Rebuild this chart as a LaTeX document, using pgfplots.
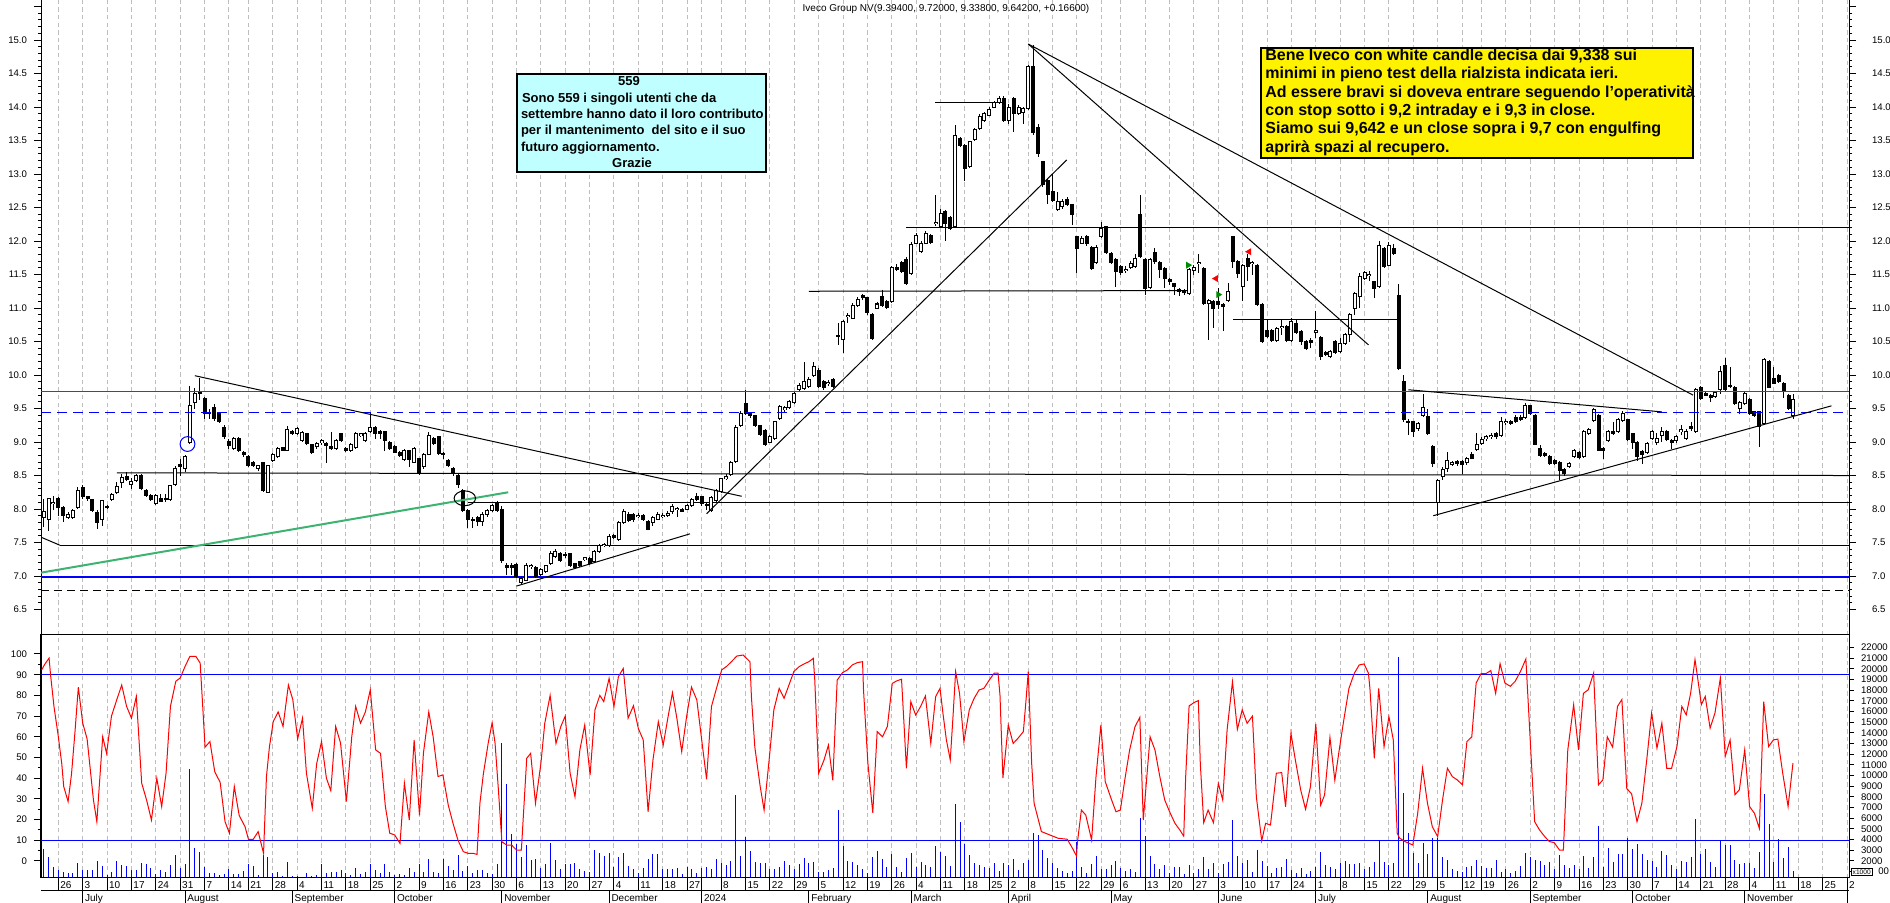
\documentclass[border=0pt]{standalone}
\usepackage{fontspec}
\setmainfont{Liberation Sans}
\usepackage{pgfplots}
\usepackage{pgfplotstable}
\pgfplotsset{compat=1.18}

\definecolor{cyanbox}{RGB}{192,255,255}
\definecolor{trendgreen}{RGB}{60,179,113}
\definecolor{gridgray}{RGB}{190,190,190}

% x = trading-day index, 0 = Mon 19 Jun 2023 (Borsa holidays skipped)
\pgfplotstableread{
i o h l c
2 7.88 8.15 7.73 7.96
3 7.85 8.17 7.67 8.15
4 8.08 8.20 7.98 8.10
5 8.15 8.18 7.90 8.02
6 8.02 8.05 7.80 7.90
7 7.88 7.95 7.85 7.92
8 7.87 8.00 7.85 7.98
9 8.02 8.33 8.00 8.27
10 8.32 8.36 8.15 8.19
11 8.18 8.20 8.12 8.15
12 8.14 8.15 7.95 7.98
13 7.95 7.98 7.70 7.80
14 7.84 8.14 7.75 8.12
15 8.04 8.06 8.00 8.02
16 8.14 8.24 8.12 8.21
17 8.25 8.40 8.22 8.33
18 8.39 8.52 8.32 8.47
19 8.49 8.56 8.42 8.44
20 8.36 8.46 8.30 8.41
21 8.42 8.53 8.40 8.50
22 8.50 8.52 8.28 8.31
23 8.28 8.30 8.18 8.20
24 8.20 8.22 8.12 8.14
25 8.08 8.22 8.06 8.20
26 8.15 8.22 8.10 8.11
27 8.16 8.23 8.10 8.14
28 8.14 8.36 8.12 8.35
29 8.36 8.64 8.34 8.60
30 8.66 8.75 8.50 8.64
31 8.60 8.80 8.55 8.78
32 9.00 9.83 8.97 9.55
33 9.59 9.80 9.50 9.72
34 9.74 9.95 9.62 9.72
35 9.65 9.67 9.35 9.43
36 9.44 9.50 9.35 9.42
37 9.52 9.57 9.32 9.35
38 9.43 9.45 9.28 9.30
39 9.22 9.25 9.05 9.08
40 9.01 9.05 8.90 8.95
41 8.90 9.08 8.88 9.05
42 9.05 9.07 8.85 8.87
43 8.85 8.87 8.78 8.82
44 8.78 8.80 8.63 8.65
45 8.70 8.72 8.62 8.65
46 8.60 8.66 8.57 8.65
47 8.69 8.70 8.26 8.28
48 8.25 8.66 8.24 8.65
49 8.72 8.84 8.70 8.82
50 8.78 8.92 8.76 8.90
51 8.92 8.93 8.86 8.87
52 8.87 9.24 8.86 9.19
53 9.15 9.18 9.10 9.12
54 9.13 9.22 9.10 9.20
55 9.03 9.16 9.00 9.14
56 9.12 9.13 8.95 8.98
57 8.96 8.97 8.82 8.84
58 8.93 9.00 8.90 8.98
59 8.99 9.04 8.96 9.02
60 8.98 9.00 8.68 8.95
61 8.93 9.15 8.88 8.91
62 8.91 9.05 8.88 9.02
63 9.12 9.14 9.00 9.02
64 8.90 8.92 8.85 8.87
65 8.87 8.98 8.85 8.96
66 8.92 9.15 8.90 9.12
67 9.10 9.14 9.08 9.12
68 9.02 9.15 9.00 9.13
69 9.15 9.43 9.13 9.22
70 9.22 9.24 9.05 9.12
71 9.15 9.18 9.05 9.12
72 9.15 9.16 8.86 9.02
73 9.00 9.02 8.88 8.90
74 8.94 8.96 8.83 8.85
75 8.84 8.86 8.78 8.80
76 8.74 8.89 8.72 8.87
77 8.87 8.88 8.63 8.74
78 8.70 8.93 8.68 8.90
79 8.75 8.76 8.51 8.53
80 8.63 8.84 8.60 8.82
81 8.82 9.15 8.80 9.10
82 9.05 9.07 8.95 8.98
83 9.08 9.09 8.80 8.83
84 8.83 8.85 8.75 8.82
85 8.73 8.75 8.62 8.65
86 8.61 8.63 8.50 8.55
87 8.50 8.52 8.32 8.37
88 8.28 8.30 7.95 7.98
89 7.98 8.00 7.72 7.85
90 7.85 7.88 7.72 7.83
91 7.87 7.90 7.75 7.82
92 7.82 7.95 7.75 7.92
93 7.92 8.00 7.88 7.98
94 7.98 8.08 7.95 8.05
95 8.10 8.12 7.96 7.98
96 8.00 8.05 7.20 7.23
97 7.15 7.20 7.02 7.13
98 7.15 7.20 7.02 7.13
99 7.17 7.19 6.97 6.99
100 6.91 7.00 6.88 6.97
101 6.94 7.20 6.92 7.15
102 7.14 7.18 7.10 7.16
103 7.13 7.15 6.97 6.99
104 7.02 7.12 7.00 7.10
105 7.07 7.17 7.05 7.15
106 7.19 7.37 7.17 7.34
107 7.29 7.40 7.27 7.37
108 7.33 7.36 7.21 7.23
109 7.32 7.36 7.27 7.30
110 7.33 7.35 7.13 7.15
111 7.18 7.20 7.11 7.13
112 7.21 7.23 7.13 7.15
113 7.25 7.29 7.22 7.27
114 7.26 7.28 7.16 7.18
115 7.21 7.39 7.19 7.37
116 7.37 7.48 7.35 7.45
117 7.45 7.50 7.43 7.47
118 7.45 7.62 7.43 7.59
119 7.60 7.62 7.55 7.58
120 7.55 7.82 7.53 7.80
121 7.80 8.00 7.78 7.96
122 7.92 7.95 7.80 7.83
123 7.92 7.94 7.80 7.84
124 7.89 7.94 7.86 7.91
125 7.90 7.92 7.82 7.85
126 7.82 7.84 7.68 7.70
127 7.80 7.90 7.75 7.88
128 7.85 7.96 7.83 7.92
129 7.89 7.94 7.86 7.91
130 7.90 7.97 7.88 7.94
131 7.96 8.07 7.93 8.04
132 7.99 8.03 7.88 8.01
133 8.00 8.02 7.95 7.97
134 8.00 8.08 7.98 8.05
135 8.05 8.16 8.03 8.14
136 8.19 8.24 8.12 8.14
137 8.19 8.20 8.05 8.08
138 8.07 8.09 7.98 8.05
139 7.98 8.19 7.96 8.17
140 8.12 8.30 8.10 8.28
141 8.26 8.47 8.24 8.45
142 8.45 8.52 8.43 8.49
143 8.52 8.72 8.50 8.69
144 8.71 9.25 8.69 9.22
145 9.24 9.46 9.22 9.43
146 9.58 9.78 9.40 9.43
147 9.42 9.45 9.36 9.40
148 9.39 9.41 9.22 9.24
149 9.24 9.26 9.09 9.11
150 9.17 9.19 8.94 8.97
151 9.00 9.10 8.98 9.08
152 9.05 9.32 9.03 9.30
153 9.35 9.56 9.33 9.53
154 9.48 9.54 9.45 9.51
155 9.51 9.63 9.49 9.60
156 9.59 9.75 9.57 9.72
157 9.79 9.88 9.76 9.85
158 9.80 10.20 9.78 9.90
159 9.83 9.97 9.80 9.94
160 9.99 10.20 9.97 10.12
161 10.07 10.10 9.80 9.83
162 9.90 9.92 9.78 9.82
163 9.87 9.92 9.84 9.89
164 9.94 9.96 9.80 9.83
165 10.59 10.77 10.45 10.57
166 10.53 10.82 10.33 10.80
167 10.87 10.93 10.77 10.89
168 10.85 11.07 10.83 11.04
169 11.04 11.16 11.02 11.12
170 11.18 11.21 11.12 11.16
171 11.15 11.17 10.90 10.93
172 10.90 10.92 10.52 10.54
173 11.00 11.09 10.98 11.06
174 11.17 11.27 11.02 11.04
175 11.09 11.12 10.98 11.01
176 11.09 11.63 11.07 11.60
177 11.61 11.65 11.55 11.57
178 11.68 11.70 11.53 11.55
179 11.73 11.76 11.35 11.37
180 11.52 11.98 11.50 11.95
181 11.97 12.12 11.95 12.08
182 11.84 12.00 11.82 11.97
183 11.97 12.15 11.95 12.11
184 12.08 12.10 11.95 11.98
185 12.26 12.69 12.22 12.28
186 12.22 12.48 12.20 12.41
187 12.44 12.46 12.00 12.26
188 12.35 12.37 12.17 12.19
189 12.21 13.73 12.19 13.58
190 13.53 13.56 13.40 13.43
191 13.43 13.45 12.89 13.08
192 13.11 13.50 13.09 13.48
193 13.51 13.69 13.49 13.66
194 13.68 13.89 13.66 13.86
195 13.80 13.93 13.78 13.90
196 13.88 14.00 13.86 13.96
197 14.00 14.09 13.98 14.06
198 14.06 14.17 14.04 14.13
199 14.13 14.16 13.78 13.80
200 13.80 14.05 13.75 14.00
201 14.13 14.15 13.62 13.90
202 13.90 14.03 13.88 14.00
203 13.92 14.00 13.75 13.98
204 13.98 14.62 13.95 14.60
205 14.60 14.93 13.58 13.62
206 13.70 13.75 13.25 13.31
207 13.18 13.20 12.80 12.84
208 12.91 12.93 12.56 12.69
209 12.74 13.00 12.58 12.61
210 12.47 12.73 12.45 12.59
211 12.51 12.62 12.48 12.59
212 12.62 12.65 12.53 12.55
213 12.54 12.56 12.24 12.39
214 12.06 12.08 11.53 11.89
215 11.97 12.07 11.95 12.04
216 12.07 12.09 11.93 11.96
217 11.91 11.93 11.56 11.59
218 11.68 11.94 11.66 11.91
219 12.06 12.29 12.04 12.19
220 12.21 12.23 11.80 11.83
221 11.82 11.84 11.65 11.68
222 11.72 11.74 11.31 11.54
223 11.62 11.64 11.50 11.53
224 11.56 11.62 11.52 11.58
225 11.61 11.70 11.58 11.67
226 11.62 11.80 11.60 11.74
227 12.39 12.69 11.75 11.77
228 11.72 11.74 11.20 11.29
229 11.31 11.75 11.28 11.72
230 11.83 11.90 11.66 11.69
231 11.68 11.70 11.45 11.57
232 11.59 11.61 11.30 11.44
233 11.42 11.45 11.35 11.40
234 11.36 11.38 11.20 11.32
235 11.27 11.30 11.18 11.25
236 11.25 11.28 11.20 11.23
237 11.22 11.60 11.20 11.58
238 11.56 11.64 11.50 11.61
239 11.66 11.80 11.52 11.68
240 11.59 11.61 11.05 11.07
241 11.07 11.14 10.53 11.11
242 11.10 11.12 10.70 11.00
243 11.10 11.30 10.98 11.06
244 11.06 11.08 10.65 11.03
245 11.11 11.37 11.09 11.24
246 12.06 12.08 11.60 11.69
247 11.69 11.71 11.45 11.51
248 11.32 11.66 11.10 11.64
249 11.74 11.80 11.40 11.62
250 11.66 11.70 11.50 11.68
251 11.63 11.65 11.03 11.05
252 11.05 11.07 10.48 10.50
253 10.66 10.84 10.55 10.57
254 10.67 10.69 10.49 10.51
255 10.51 10.71 10.49 10.69
256 10.71 10.82 10.60 10.73
257 10.72 10.74 10.50 10.52
258 10.52 10.85 10.50 10.80
259 10.77 10.84 10.61 10.63
260 10.65 10.67 10.45 10.50
261 10.50 10.52 10.38 10.40
262 10.51 10.55 10.40 10.49
263 10.64 10.95 10.55 10.66
264 10.56 10.58 10.22 10.27
265 10.33 10.36 10.28 10.31
266 10.28 10.38 10.26 10.35
267 10.50 10.52 10.31 10.33
268 10.35 10.55 10.33 10.47
269 10.47 10.63 10.45 10.60
270 10.60 10.92 10.50 10.90
271 10.99 11.24 10.90 11.21
272 11.17 11.52 11.00 11.47
273 11.44 11.56 11.42 11.53
274 11.48 11.55 11.40 11.50
275 11.39 11.41 11.15 11.29
276 11.32 12.00 11.30 11.94
277 11.89 11.91 11.60 11.62
278 11.64 11.98 11.62 11.94
279 11.89 11.95 11.79 11.81
280 11.19 11.36 10.07 10.09
281 9.90 10.00 9.30 9.33
282 9.31 9.35 9.10 9.29
283 9.30 9.32 9.08 9.15
284 9.20 9.30 9.17 9.27
285 9.40 9.72 9.38 9.52
286 9.38 9.50 9.10 9.13
287 8.94 8.96 8.62 8.68
288 8.10 8.45 7.90 8.42
289 8.48 8.62 8.44 8.59
290 8.60 8.85 8.55 8.73
291 8.67 8.72 8.64 8.69
292 8.71 8.73 8.64 8.68
293 8.71 8.73 8.52 8.67
294 8.69 8.78 8.66 8.76
295 8.82 8.85 8.74 8.76
296 8.89 9.13 8.87 8.97
297 8.98 9.07 8.96 9.04
298 9.05 9.11 9.02 9.08
299 9.08 9.13 9.05 9.10
300 9.12 9.15 9.05 9.08
301 9.09 9.38 9.07 9.30
302 9.29 9.34 9.26 9.31
303 9.31 9.33 9.26 9.28
304 9.37 9.40 9.28 9.30
305 9.37 9.40 9.31 9.33
306 9.37 9.58 9.35 9.55
307 9.54 9.56 9.40 9.43
308 9.40 9.42 8.95 8.97
309 8.90 8.95 8.78 8.80
310 8.83 8.85 8.78 8.80
311 8.78 8.80 8.66 8.68
312 8.72 8.74 8.66 8.68
313 8.69 8.71 8.43 8.58
314 8.59 8.61 8.50 8.53
315 8.63 8.70 8.61 8.68
316 8.78 8.90 8.76 8.88
317 8.84 8.86 8.75 8.77
318 8.78 9.18 8.76 9.16
319 9.13 9.21 9.11 9.19
320 9.32 9.51 9.30 9.48
321 9.40 9.42 8.86 8.88
322 8.90 8.92 8.74 8.88
323 9.02 9.18 9.00 9.16
324 9.16 9.30 9.10 9.12
325 9.16 9.36 9.14 9.34
326 9.32 9.47 9.30 9.42
327 9.33 9.35 9.02 9.04
328 9.12 9.14 8.90 9.00
329 8.99 9.01 8.72 8.79
330 8.86 8.88 8.67 8.82
331 8.84 9.00 8.82 8.98
332 9.05 9.18 9.03 9.16
333 9.00 9.13 8.95 9.05
334 9.10 9.22 9.00 9.16
335 9.16 9.18 9.02 9.04
336 9.02 9.05 8.90 8.99
337 9.02 9.10 8.98 9.08
338 9.15 9.25 9.10 9.18
339 9.05 9.20 9.03 9.16
340 9.23 9.30 9.17 9.20
341 9.15 9.81 9.13 9.79
342 9.82 9.84 9.63 9.65
343 9.73 9.75 9.68 9.70
344 9.69 9.72 9.60 9.67
345 9.68 9.76 9.66 9.74
346 9.78 10.14 9.72 10.05
347 10.14 10.25 9.76 9.78
348 9.85 10.12 9.80 9.83
349 9.82 9.84 9.55 9.57
350 9.50 9.61 9.42 9.59
351 9.58 9.74 9.56 9.72
352 9.63 9.65 9.41 9.43
353 9.45 9.47 9.38 9.40
354 9.45 9.47 8.93 9.23
355 9.27 10.25 9.25 10.23
356 10.20 10.22 9.80 9.82
357 9.95 10.12 9.86 9.88
358 10.00 10.02 9.88 9.90
359 9.87 9.89 9.65 9.75
360 9.69 9.71 9.48 9.50
361 9.394 9.72 9.338 9.642
}\candles

\pgfplotstableread{
i v
2 3100
3 2350
4 1400
5 1200
6 1000
7 900
8 900
9 1800
10 1200
11 1150
12 1150
13 2000
14 1500
15 700
16 1000
17 2000
18 1600
19 1500
20 1150
21 1150
22 1800
23 1700
24 1300
25 800
26 1200
27 1000
28 1600
29 2600
30 1300
31 1700
32 10600
33 3200
34 2800
35 1400
36 900
37 900
38 700
39 800
40 1250
41 800
42 750
43 1100
44 1700
45 1500
46 700
47 2600
48 2350
49 900
50 1000
51 600
52 1900
53 600
54 600
55 500
56 900
57 600
58 700
59 1700
60 900
61 1000
62 1000
63 1200
64 900
65 700
66 1300
67 800
68 1000
69 1700
70 1200
71 900
72 1700
73 1000
74 700
75 800
76 650
77 1300
78 1000
79 1700
80 1000
81 2200
82 1000
83 900
84 2200
85 1500
86 1200
87 2600
88 1100
89 1500
90 900
91 1200
92 1160
93 840
94 750
95 1720
96 13030
97 9220
98 4530
99 3590
100 2340
101 3500
102 2090
103 2150
104 1310
105 1720
106 3720
107 2090
108 1220
109 1720
110 1720
111 1840
112 1220
113 1090
114 1000
115 3030
116 2780
117 2470
118 2780
119 1470
120 2400
121 2780
122 1530
123 1220
124 910
125 1340
126 2220
127 2650
128 2650
129 1220
130 1220
131 1280
132 1340
133 780
134 1470
135 1280
136 910
137 1340
138 1400
139 1220
140 2220
141 1780
142 1660
143 1970
144 8220
145 2470
146 4280
147 2970
148 1940
149 1780
150 1840
151 1220
152 1280
153 1470
154 2030
155 1620
156 1280
157 1720
158 2280
159 1840
160 1900
161 1000
162 1000
163 1160
164 1310
165 6780
166 3400
167 2030
168 1900
169 1620
170 1280
171 910
172 2340
173 2970
174 2220
175 1400
176 2650
177 1470
178 970
179 2280
180 2780
181 1470
182 1900
183 1660
184 1470
185 3400
186 2875
187 2470
188 1530
189 7340
190 5690
191 3590
192 2560
193 1840
194 1620
195 1470
196 1340
197 1840
198 1090
199 1840
200 1660
201 2220
202 1160
203 1840
204 2090
205 4660
206 4440
207 3030
208 2250
209 1840
210 1340
211 1090
212 910
213 1090
214 3810
215 1400
216 840
217 1720
218 2470
219 1220
220 1280
221 1620
222 2030
223 1310
224 1090
225 1280
226 1000
227 6000
228 4340
229 2470
230 1720
231 1220
232 1620
233 840
234 1400
235 1400
236 780
237 1620
238 840
239 1280
240 2340
241 1280
242 1840
243 910
244 1720
245 1940
246 5840
247 2470
248 1840
249 2090
250 1000
251 3030
252 2030
253 1530
254 840
255 1310
256 1400
257 2220
258 1160
259 910
260 1310
261 780
262 1090
263 1470
264 2875
265 1620
266 1400
267 1280
268 1780
269 2030
270 1720
271 1720
272 1840
273 1280
274 1470
275 1940
276 3900
277 1940
278 1620
279 1780
280 21160
281 8400
282 4660
283 2720
284 1780
285 3720
286 2625
287 4125
288 4125
289 2400
290 2090
291 1250
292 1090
293 1000
294 1400
295 1530
296 2090
297 1530
298 1340
299 1340
300 2090
301 1000
302 1250
303 900
304 1090
305 1500
306 2780
307 2400
308 2090
309 2030
310 1625
311 1940
312 1250
313 2560
314 1625
315 1375
316 1625
317 1220
318 2470
319 1375
320 2400
321 5280
322 1470
323 3190
324 1940
325 2660
326 2660
327 4125
328 3090
329 3590
330 2660
331 2090
332 2030
333 1400
334 2940
335 2560
336 1625
337 1220
338 2030
339 1940
340 2340
341 5900
342 2660
343 3125
344 1940
345 1400
346 3900
347 3500
348 3500
349 2090
350 1720
351 1780
352 1780
353 1310
354 2810
355 8280
356 5470
357 1940
358 4030
359 2250
360 3280
361 1090
}\volume

\pgfplotsset{
  panel/.style={scale only axis, width=904pt, anchor=south west,
    xmin=1.44, xmax=372.4,
    axis line style={black, line width=0.5pt},
    tick style={black, line width=0.5pt},
    tick align=outside,
    ticklabel style={font=\fontsize{4.8}{5}\selectfont},
    /pgf/number format/assume math mode=true,
    every axis plot/.append style={line width=0.5pt}},
  weeks/.style={xtick={5,10,15,20,25,30,35,40,44,49,54,59,64,69,74,79,84,89,94,99,104,109,114,119,124,129,134,137,141,146,151,156,161,166,171,176,181,186,191,196,200,204,209,214,219,223,228,233,238,243,248,253,258,263,268,273,278,283,288,293,297,302,307,312,317,322,327,332,337,342,347,352,357,362,367,372}},
  weekgrid/.style={weeks, xmajorgrids,
    major grid style={gridgray, line width=0.5pt, dash pattern=on 2.2pt off 1.6pt}},
  candlebar/.style={only marks, mark=*, mark size=0pt,
    mark options={draw=none, fill=none},
    error bars/y dir=both, error bars/y explicit, error bars/error mark=none},
  pricey/.style={ymin=6.12, ymax=15.642,
    ytick={6.5,7,7.5,8,8.5,9,9.5,10,10.5,11,11.5,12,12.5,13,13.5,14,14.5,15,15.5},
    yticklabels={6.5,7.0,7.5,8.0,8.5,9.0,9.5,10.0,10.5,11.0,11.5,12.0,12.5,13.0,13.5,14.0,14.5,15.0,{}}},
}

\begin{document}
\begin{tikzpicture}

% ---------------- price panel ----------------
\begin{axis}[panel, pricey, at={(20.5pt,134pt)}, height=319pt,
  weekgrid, xticklabels={}, xtick style={draw=none},
  minor y tick num=4, major tick length=3.5pt, minor tick length=1.5pt]

\addplot[black] coordinates {(17,8.54)(372.4,8.50)};
\addplot[black] coordinates {(89,8.09)(372.4,8.09)};
\addplot[black] coordinates {(5.3,7.46)(372.4,7.46)};
\addplot[black] coordinates {(1.44,7.58)(5.3,7.46)};
\addplot[blue, line width=1pt] coordinates {(1.44,6.98)(372.4,6.98)};
\addplot[black, dash pattern=on 4pt off 2.5pt] coordinates {(1.44,6.785)(372.4,6.785)};
\addplot[black] coordinates {(179,12.2)(372.4,12.2)};
\addplot[black] coordinates {(159,11.25)(237,11.26)};
\addplot[black] coordinates {(184.9,14.07)(198.6,14.07)};
\addplot[black] coordinates {(246,10.83)(279.6,10.83)};

% candles: wick, body outline, white body of rising days
\addplot[candlebar, error bars/error bar style={black, line width=0.5pt}]
  table[x=i, y expr={(\thisrow{h}+\thisrow{l})/2}, y error expr={(\thisrow{h}-\thisrow{l})/2}] {\candles};
\addplot[candlebar, error bars/error bar style={black, line width=2pt}]
  table[x=i, y expr={(\thisrow{o}+\thisrow{c})/2}, y error expr={abs(\thisrow{c}-\thisrow{o})/2+0.0075}] {\candles};
\addplot[candlebar, restrict expr to domain={\thisrow{c}-\thisrow{o}}{0:100},
  error bars/error bar style={white, line width=1pt}]
  table[x=i, y expr={(\thisrow{o}+\thisrow{c})/2}, y error expr={max((\thisrow{c}-\thisrow{o})/2-0.0075,0)}] {\candles};

\addplot[red] coordinates {(1.44,9.76)(372.4,9.76)};
\addplot[blue, dash pattern=on 5pt off 3pt] coordinates {(1.44,9.44)(372.4,9.44)};

% trend lines
\addplot[black] coordinates {(33,9.99)(145.2,8.19)};
\addplot[trendgreen, line width=1pt] coordinates {(1.44,7.05)(97.3,8.25)};
\addplot[black] coordinates {(99,6.85)(134.6,7.63)};
\addplot[black] coordinates {(138,7.93)(211.9,13.21)};
\addplot[black] coordinates {(204,14.94)(273.8,10.45)};
\addplot[black] coordinates {(204,14.94)(340.4,9.70)};
\addplot[black] coordinates {(282,9.78)(334,9.45)};
\addplot[black] coordinates {(287.1,7.90)(368.8,9.54)};

\addplot[blue, only marks, mark=o, mark size=3.7pt] coordinates {(31.5,8.97)};
\addplot[black, only marks, mark=o, mark size=3.7pt, mark options={xscale=1.45}] coordinates {(88.4,8.16)};
\addplot[red, only marks, mark=triangle*, mark size=1.5pt, mark options={rotate=90}] coordinates {(242.5,11.44)(249.3,11.84)};
\addplot[green!55!black, only marks, mark=triangle*, mark size=1.5pt, mark options={rotate=-90}] coordinates {(236.8,11.64)(243,11.2)};
\end{axis}

% right-hand price labels
\begin{axis}[panel, pricey, at={(20.5pt,134pt)}, height=319pt,
  xtick=\empty, ytick pos=right, yticklabel pos=right, major tick length=3.5pt,
  ytick style={draw=none}, yticklabel style={xshift=4.5pt}, axis line style={draw=none}]
\end{axis}

% ---------------- lower panel ----------------
% dates and grid
\begin{axis}[panel, at={(20.5pt,12.5pt)}, height=121.5pt, ymin=0, ymax=1, ytick=\empty,
  weekgrid, xtick pos=left, major tick length=6.5pt,
  xticklabels={26,3,10,17,24,31,7,14,21,28,4,11,18,25,2,9,16,23,30,6,13,20,27,4,11,18,27,{},8,15,22,29,5,12,19,26,4,11,18,25,2,8,15,22,29,6,13,20,27,3,10,17,24,1,8,15,22,29,5,12,19,26,2,9,16,23,30,7,14,21,28,4,11,18,25,2},
  xticklabel style={anchor=north west, inner sep=0pt, xshift=0.8pt, yshift=5pt, font=\fontsize{5}{5}\selectfont}]
\end{axis}

% volume (right scale)
\begin{axis}[panel, at={(20.5pt,12.5pt)}, height=121.5pt, ymin=406, ymax=23187,
  xtick=\empty, ytick={1000,2000,...,22000},
  yticklabels={\hspace*{8.6pt}00,2000,3000,4000,5000,6000,7000,8000,9000,10000,11000,12000,13000,14000,15000,16000,17000,18000,19000,20000,21000,22000},
  ytick pos=right, yticklabel pos=right, major tick length=2.5pt, scaled y ticks=false]
\addplot[ycomb, blue] table[x=i, y=v] {\volume};
\end{axis}

% oscillator (left scale)
\begin{axis}[panel, at={(20.5pt,12.5pt)}, height=121.5pt, ymin=-8.21, ymax=109.18,
  xtick=\empty, ytick={0,10,...,100}, ytick pos=left, minor y tick num=1,
  major tick length=3.5pt, minor tick length=1.5pt]
\addplot[blue] coordinates {(1.44,90)(372.4,90)};
\addplot[blue] coordinates {(1.44,10)(372.4,10)};
\addplot[red] coordinates {
(1.6,92.4)(2.2,95)(3.1,98)(3.4,90)(4.1,74.7)(5.0,60)(5.7,47)(6.1,36)(7.0,28.7)(7.7,42)(8.4,62)(9.1,84)(10,66.6)(10.9,59)(12.2,29.5)(12.9,19)(13.3,32.9)(14.1,60)(14.9,52)(15.9,70)(17,78)(18,85)(19,74.7)(20,69)(21,79.5)(22.1,37.6)(23.1,29.5)(24.1,19.8)(25.2,40)(26.2,26.3)(27.1,42.4)(28,74.7)(29.1,86.8)(30,88.4)(31,94)(32,98.9)(33.2,98.9)(34.1,95.6)(34.7,71.5)(35.1,55)(36.1,57.7)(37.1,43)(38.2,38)(39.2,19)(40.1,13.4)(41.1,36)(42.1,22)(43.3,16.6)(44,10.5)(45,10.5)(46,14.2)(47.1,3.7)(47.7,40.8)(48.3,55)(49.1,67.4)(50.1,72)(51.1,65)(52.2,85)(53.1,78)(54.1,59)(55.1,69)(55.9,42.4)(57.1,25.5)(58,47)(59,57.7)(60,40)(60.9,34)(61.9,65)(62.9,57)(64.1,28.7)(65.2,60)(66,74.7)(67,66.6)(68,72)(69,82.7)(70.1,53.7)(71.1,52)(72.1,26.3)(73,13.4)(74,12.6)(75.1,8.5)(76,37.6)(77,19.8)(78,58.5)(79.1,22)(79.9,52)(81,72)(81.9,60)(82.9,40.8)(83.9,41.6)(85,27)(86,18)(87,10)(88.1,4.5)(89.1,3.7)(90.1,3.7)(90.9,3.2)(91.5,28)
(92.2,42)(93.2,57)(94,66.8)(94.6,57)(95.3,34)(96,9.3)(97,7.7)(98,7.7)(99,5.3)(100,5.3)(101.1,49.6)(101.9,52)(102.9,27.9)(104,47)(104.8,66.5)(105.9,80)(107.1,56.8)(108.1,65)(109,70)(110,42.4)(111,31)(112,53.6)(113,65.7)(114.1,41.5)(115.1,73)(116.1,80)(116.9,77)(118,88.2)(119,74.6)(119.9,89)(120.9,93)(121.9,69)(123,75)(124,64)(125,58.5)(126,23.8)(127,48.8)(128.1,67.3)(129.1,56)(130.1,69.7)(131,81.3)(131.9,69)(132.9,52.8)(133.9,69.7)(134.9,84)(136,77.8)(137,58.5)(138,39.5)(139,74.6)(140.1,84)(141.1,92.3)(142.1,94)(143.1,96.3)(144.2,99)(145.5,99.5)(146.9,96.3)(147.2,79.4)(147.9,55)(149,36)(149.8,24.6)(150.9,50.4)(151.8,73)(152.9,83.4)(153.9,78.6)(154.9,85)(155.9,91.5)(157,93.9)(158,95.2)(159,96.3)(159.9,97.9)(160.2,87.4)(161,42.4)(162.1,48.8)(163,56)(163.9,39)(164.8,87.4)(165.9,91)(166.9,92.3)(167.9,94.7)(168.9,95.8)(170,96.3)(170.2,82.6)(171.1,47.2)(172.1,23.3)(173,62.5)(174.1,60)(175.1,65)(176.1,85.8)(177,87)(178,87.8)(178.5,66.5)(179,44.8)(179.9,77)(180.9,70.5)(181.9,74.6)(182.9,79.7)(184,56.8)(185,79.4)
(185.9,83.4)(186.5,71.3)(187.2,58.5)(188,48.8)(188.6,71.3)(189.1,91.5)(189.9,81)(190.8,57.6)(191.9,73)(192.9,78.6)(193.9,82.6)(194.9,83.4)(196,87.4)(197,90.7)(197.8,90.7)(198.2,80.2)(198.8,40)(199.9,65.7)(200.9,56.8)(201.9,59.3)(203,62.5)(203.6,79.4)(204,91.5)(204.7,47.2)(205.2,27.9)(206.7,14.2)(208.4,12.6)(210.1,11)(212,10.5)(212.9,6.9)(213.9,2.4)(214.1,9.3)(214.9,24.6)(215.8,22.2)(217,10.1)(217.9,40.7)(218.9,65.7)(219.8,38.3)(221.1,29.5)(222,23.8)(222.9,24.6)(223.8,39.1)(224.8,53.6)(225.9,64.9)(226.9,69.4)(227.6,19.8)(229,60)(230,53.6)(231,40.7)(232,29.5)(233,23.8)(234.1,18.2)(235.1,15)(235.9,12)(236.3,40.7)(237,74.9)(238,76.5)(238.9,77.5)(239.3,47.2)(240,18.5)(240.9,24.6)(242,18.5)(243,37.5)(243.9,29.5)(244.8,63.3)(245.9,86.6)(246.9,63.6)(247.9,73)(248.9,66.5)(250,70)(250.8,31)(251.9,9.8)(252.7,18.2)(253.7,17.4)(254.9,42.4)(256,42.7)(256.8,26.2)(257.9,61.7)(258.8,48.8)(259.9,34.3)(260.9,25)(261.9,35.9)(263,66.2)(264,27)(264.8,31.9)(265.9,59.7)(266.9,39)(267.8,53.6)(268.8,69)(269.8,83.4)(270.9,90.7)(271.9,94.7)(272.9,95.2)(273.8,90.7)(274.1,83.4)(275,49.6)(275.9,83.4)(277,55.2)(278,69.7)(278.9,58.5)(279.7,13.4)(280.2,11)
(281.3,9.4)(282.9,7.7)(283.9,23)(284.9,44.8)(285.9,28)(286.9,16.6)(288,11.8)(289,29.5)(290,44.8)(291,40.8)(292,39.2)(293.1,36.8)(294,57.7)(295,60)(295.9,86)(296.9,90.5)(297.9,90.5)(298.9,92)(299.9,81)(300.8,95.3)(301.8,86)(302.9,84.4)(303.9,86.8)(305,91.6)(306.1,97.6)(306.4,84.4)(307.1,53.7)(307.9,19)(308.9,15)(309.9,12)(310.9,9.4)(311.9,8.9)(313,5.3)(313.8,5.3)(314.7,53.7)(315.9,75.5)(316.9,53.7)(317.9,81)(318.9,82.7)(320,90.8)(321,36.8)(321.9,39.2)(322.8,60)(323.9,55)(324.9,74.7)(325.8,78)(326.8,35)(327.8,32.4)(328.9,19)(329.9,27.9)(330.9,48.9)(331.9,71.5)(333,54.5)(334,66.6)(335,44.8)(336,44.8)(337.1,55.3)(338.1,74.7)(339,70.6)(339.9,81)(340.8,97.3)(341.3,89.2)(342.1,75.5)(342.9,79.5)(343.9,64.2)(344.9,71.5)(346,88.4)(347,50.5)(348,58.5)(349,32)(349.9,34.4)(351,53.7)(352,26.3)(353,23)(354,15.8)(354.9,77)(355.9,55.3)(356.9,58.5)(357.8,58.9)(358.8,42.4)(359.9,26.3)(360.9,47.3)
};
\end{axis}

% month row
\begin{axis}[scale only axis, width=904pt, height=6pt, anchor=south west, at={(20.5pt,0pt)},
  xmin=1.44, xmax=372.4, ymin=0, ymax=1, ytick=\empty, axis line style={draw=none}, clip=false,
  xtick={10,31,53,74,96,118,137,159,180,200,221,243,263,286,307,328,351,372},
  xticklabels={July,August,September,October,November,December,2024,February,March,April,May,June,July,August,September,October,November,{}},
  xtick pos=left, tick align=inside, major tick length=6pt, tick style={black, line width=0.5pt},
  xticklabel style={anchor=base west, inner sep=0pt, xshift=1pt, yshift=0.6pt, font=\fontsize{5}{5}\selectfont}]
\addplot[black, line width=0.5pt] coordinates {(1.44,1)(372.4,1)};
\end{axis}

\node[draw, line width=0.3pt, fill=white, inner sep=0.6pt, anchor=south west,
  font=\fontsize{3.3}{3.5}\selectfont] at (925.6pt,13.6pt) {x1000};

% title
\node[font=\fontsize{5}{6}\selectfont] at (473pt,447pt)
  {Iveco Group NV(9.39400, 9.72000, 9.33800, 9.64200, +0.16600)};

% note boxes
\draw[line width=1pt, fill=cyanbox] (258.5pt,365.5pt) rectangle (383pt,414.5pt);
\begin{scope}[every node/.style={font=\fontsize{6.5}{8}\bfseries, inner sep=0pt}]
\node[anchor=base] at (314.5pt,408.6pt) {559};
\node[anchor=base west] at (260.8pt,400.2pt) {Sono 559 i singoli utenti che da};
\node[anchor=base west] at (260.3pt,392.1pt) {settembre hanno dato il loro contributo};
\node[anchor=base west] at (260.3pt,384.0pt) {per il mantenimento\ \ del sito e il suo};
\node[anchor=base west] at (260.3pt,375.6pt) {futuro aggiornamento.};
\node[anchor=base] at (316pt,367.6pt) {Grazie};
\end{scope}

\draw[line width=1pt, fill=yellow] (630.5pt,372.65pt) rectangle (846.5pt,427.65pt);
\begin{scope}[every node/.style={font=\fontsize{8}{9.5}\bfseries, inner sep=0pt, anchor=base west}]
\node at (632.5pt,421.3pt) {Bene Iveco con white candle decisa dai 9,338 sui};
\node at (632.5pt,412.1pt) {minimi in pieno test della rialzista indicata ieri.};
\node at (632.5pt,402.9pt) {Ad essere bravi si doveva entrare seguendo l'operatività};
\node at (632.5pt,393.7pt) {con stop sotto i 9,2 intraday e i 9,3 in close.};
\node at (632.5pt,384.5pt) {Siamo sui 9,642 e un close sopra i 9,7 con engulfing};
\node at (632.5pt,375.3pt) {aprirà spazi al recupero.};
\end{scope}

\pgfresetboundingbox
\useasboundingbox (0,0) rectangle (945pt,451.5pt);
\end{tikzpicture}
\end{document}
